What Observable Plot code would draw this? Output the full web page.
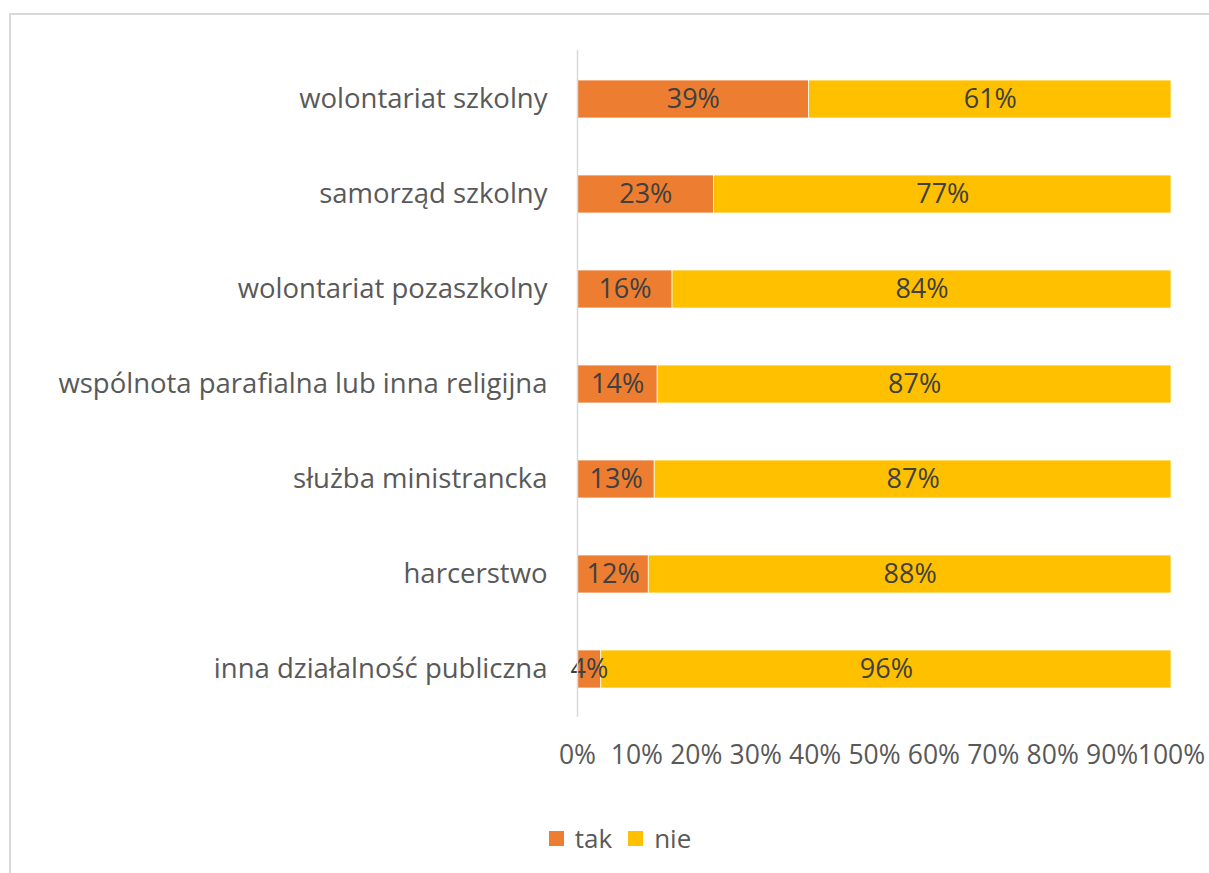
<!DOCTYPE html>
<html>
<head>
<meta charset="utf-8">
<script src="https://cdn.jsdelivr.net/npm/d3@7"></script>
<script src="https://cdn.jsdelivr.net/npm/@observablehq/plot@0.6"></script>
<style>
  html, body { margin: 0; padding: 0; background: #fff; overflow: hidden; width: 1209px; height: 873px; }
  #frame { position: absolute; left: 9px; top: 13px; width: 1400px; height: 1000px; border: 2px solid #d9d9d9; box-sizing: border-box; }
  #chart { position: absolute; left: 0; top: 0; }
  #legend { position: absolute; left: 0; top: 820px; width: 1240px; display: flex; justify-content: center; gap: 16px; font-family: "Open Sans", sans-serif; font-size: 26px; color: #595959; line-height: 36px; }
  .sw { display: flex; align-items: center; gap: 11px; }
  .sq { width: 15px; height: 15px; display: inline-block; }
</style>
</head>
<body>
<div id="frame"></div>
<div id="chart"></div>
<div id="legend"></div>
<script>
const categories = [
  "wolontariat szkolny",
  "samorząd szkolny",
  "wolontariat pozaszkolny",
  "wspólnota parafialna lub inna religijna",
  "służba ministrancka",
  "harcerstwo",
  "inna działalność publiczna"
];
const series = ["tak", "nie"];
const takValues = [39, 23, 16, 13.5, 13, 12, 4];
const nieValues = [61, 77, 84, 86.5, 87, 88, 96];
const colors = ["#ED7D31", "#FFC000"];
const xTicks = [0, 10, 20, 30, 40, 50, 60, 70, 80, 90, 100];

const data = [];
categories.forEach((c, i) => {
  data.push({category: c, series: "tak", value: takValues[i]});
  data.push({category: c, series: "nie", value: nieValues[i]});
});

const font = "'Open Sans', sans-serif";

const plot = Plot.plot({
  width: 1209,
  height: 800,
  marginLeft: 577,
  marginRight: 38,
  marginTop: 50,
  marginBottom: 83,
  style: {fontFamily: font, background: "transparent", overflow: "visible"},
  x: {domain: [0, 100], ticks: xTicks, axis: null},
  y: {domain: categories, paddingInner: 0.6, paddingOuter: 0.3, axis: null},
  color: {domain: series, range: colors},
  marks: [
    Plot.barX(data, Plot.stackX({x: "value", y: "category", fill: "series", order: series, stroke: "white", strokeWidth: 0.75})),
    Plot.text(data, Plot.stackX({x: "value", y: "category", z: "series", order: series, text: d => Math.round(d.value) + "%", fill: "#404040", fontSize: 27})),
    Plot.ruleX([0], {stroke: "#d9d9d9", strokeWidth: 1.5}),
    Plot.axisY({label: null, tickSize: 0, tickPadding: 30, fontSize: 27.5, color: "#595959", textAnchor: "end"}),
    Plot.axisX({label: null, ticks: xTicks, tickSize: 0, tickPadding: 28, fontSize: 26.5, color: "#595959", tickFormat: d => d + "%"})
  ]
});
document.getElementById("chart").appendChild(plot);

const legend = document.getElementById("legend");
series.forEach((s, i) => {
  const el = document.createElement("span");
  el.className = "sw";
  el.innerHTML = `<span class="sq" style="background:${colors[i]}"></span><span>${s}</span>`;
  legend.appendChild(el);
});
</script>
</body>
</html>
